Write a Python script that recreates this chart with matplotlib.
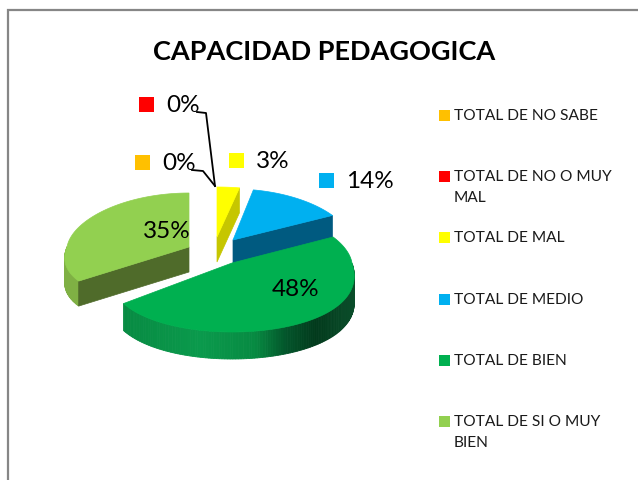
import numpy as np
import matplotlib
matplotlib.use('Agg')
import matplotlib.pyplot as plt
from matplotlib.colors import to_rgb
from matplotlib.patches import Polygon, Rectangle

plt.rcParams['font.family'] = ['Lato', 'DejaVu Sans']

title = 'CAPACIDAD PEDAGOGICA'
categories = ['TOTAL DE NO SABE', 'TOTAL DE NO O MUY\nMAL', 'TOTAL DE MAL',
              'TOTAL DE MEDIO', 'TOTAL DE BIEN', 'TOTAL DE SI O MUY\nBIEN']
shares = [0, 0, 3, 14, 48, 35]
colors = ['#ffc000', '#ff0000', '#ffff00', '#00b0f0', '#00b050', '#92d050']
cut_colors = [None, None, '#c6c600', '#005a80', None, '#4f6b2a']

# apex of each exploded slice on the top face, in pixels
apex = {2: (217, 237), 3: (233, 240), 4: (232, 263), 5: (189, 247)}
# rx, ry back, ry front of each slice
radii = {2: (130, 50, 50), 3: (118, 51, 51), 4: (120, 54, 69), 5: (122, 54, 58)}
depth = {2: 25, 3: 23, 4: 27, 5: 25}

# data label centre and its colour key
label_pos = [(183, 106), (179, 163), (273, 162), (370, 182), (296, 290), (167, 232)]
key_pos = [(142, 162), (146, 104), (236, 160), (326, 180), (255, 288), (125, 230)]
legend_y = [115, 176, 237, 299, 360, 421]


def rim(i, t):
    # point of the top face, with some perspective towards the viewer
    x0, y0 = apex[i]
    rx0, ry_back, ry_front = radii[i]
    c = np.cos(t)
    rx = rx0 * (1 - np.where(c > 0, 0.08, 0.2) * c)
    ry = np.where(c > 0, ry_back, ry_front)
    return x0 + rx * np.sin(t), y0 - ry * c


def shade(x, stops):
    xs, cols = zip(*stops)
    rgb = np.array([to_rgb(c) for c in cols])
    return [np.interp(x, xs, rgb[:, k]) for k in range(3)]


fig = plt.figure(figsize=(6.38, 4.8), dpi=100)
ax = fig.add_axes([0, 0, 1, 1])
ax.set_xlim(0, 638)
ax.set_ylim(480, 0)
ax.axis('off')

# chart frame
ax.plot([8, 8, 638], [480, 10, 10], color='#868686', lw=1.6, solid_joinstyle='miter')

ax.text(324, 52, title, fontsize=19.5, fontweight='bold', ha='center', va='center', color='black')

edges = np.radians(np.cumsum([0] + shares) * 3.6)

side_stops = {4: [(120, '#078a42'), (200, '#0a9a4c'), (255, '#078a42'), (285, '#03562b'),
                  (315, '#023a1c'), (353, '#0a4d2a')],
              5: [(64, '#7fb044'), (95, '#7fb044')]}

# light green, yellow and blue sit behind the green slice
for i in [5, 2, 3, 4]:
    t0, t1 = edges[i], edges[i + 1]
    t = np.linspace(t0, t1, 160)
    x, y = rim(i, t)
    d = depth[i]

    # outer wall, front half only
    if i in side_stops:
        for k in range(len(t) - 1):
            if np.cos(t[k]) > 0:
                continue
            quad = [(x[k], y[k]), (x[k + 1], y[k + 1]), (x[k + 1], y[k + 1] + d), (x[k], y[k] + d)]
            col = shade((x[k] + x[k + 1]) / 2, side_stops[i])
            ax.add_patch(Polygon(quad, closed=True, fc=col, ec=col, lw=0.6))

    # cut face of the slice
    if cut_colors[i]:
        e = t0 if i == 5 else t1
        ex, ey = rim(i, np.array(e))
        x0, y0 = apex[i]
        ax.add_patch(Polygon([(x0, y0), (ex, ey), (ex, ey + d), (x0, y0 + d)],
                             closed=True, fc=cut_colors[i], ec=cut_colors[i], lw=0.5))

    ax.add_patch(Polygon([apex[i]] + list(zip(x, y)), closed=True, fc=colors[i], ec=colors[i], lw=0.5))

# leader lines of the two empty slices
ax.plot([197, 206, 215], [112, 113, 186], color='black', lw=1.3)
ax.plot([192, 203, 215], [170, 171, 186], color='black', lw=1.3)

for i in range(len(shares)):
    kx, ky = key_pos[i]
    ax.add_patch(Rectangle((kx - 7.5, ky - 7.5), 15, 15, fc=colors[i], ec='none'))
    lx, ly = label_pos[i]
    ax.text(lx, ly, '%d%%' % shares[i], fontsize=17.5, ha='center', va='center', color='black')

# legend
for i in range(len(categories)):
    y = legend_y[i]
    ax.add_patch(Rectangle((439, y - 5.5), 11, 11, fc=colors[i], ec='none'))
    ax.text(454, y - 6, categories[i], fontsize=11.2, ha='left', va='top',
            color='#1a1a1a', linespacing=1.62)

fig.savefig('out.png', dpi=100)
